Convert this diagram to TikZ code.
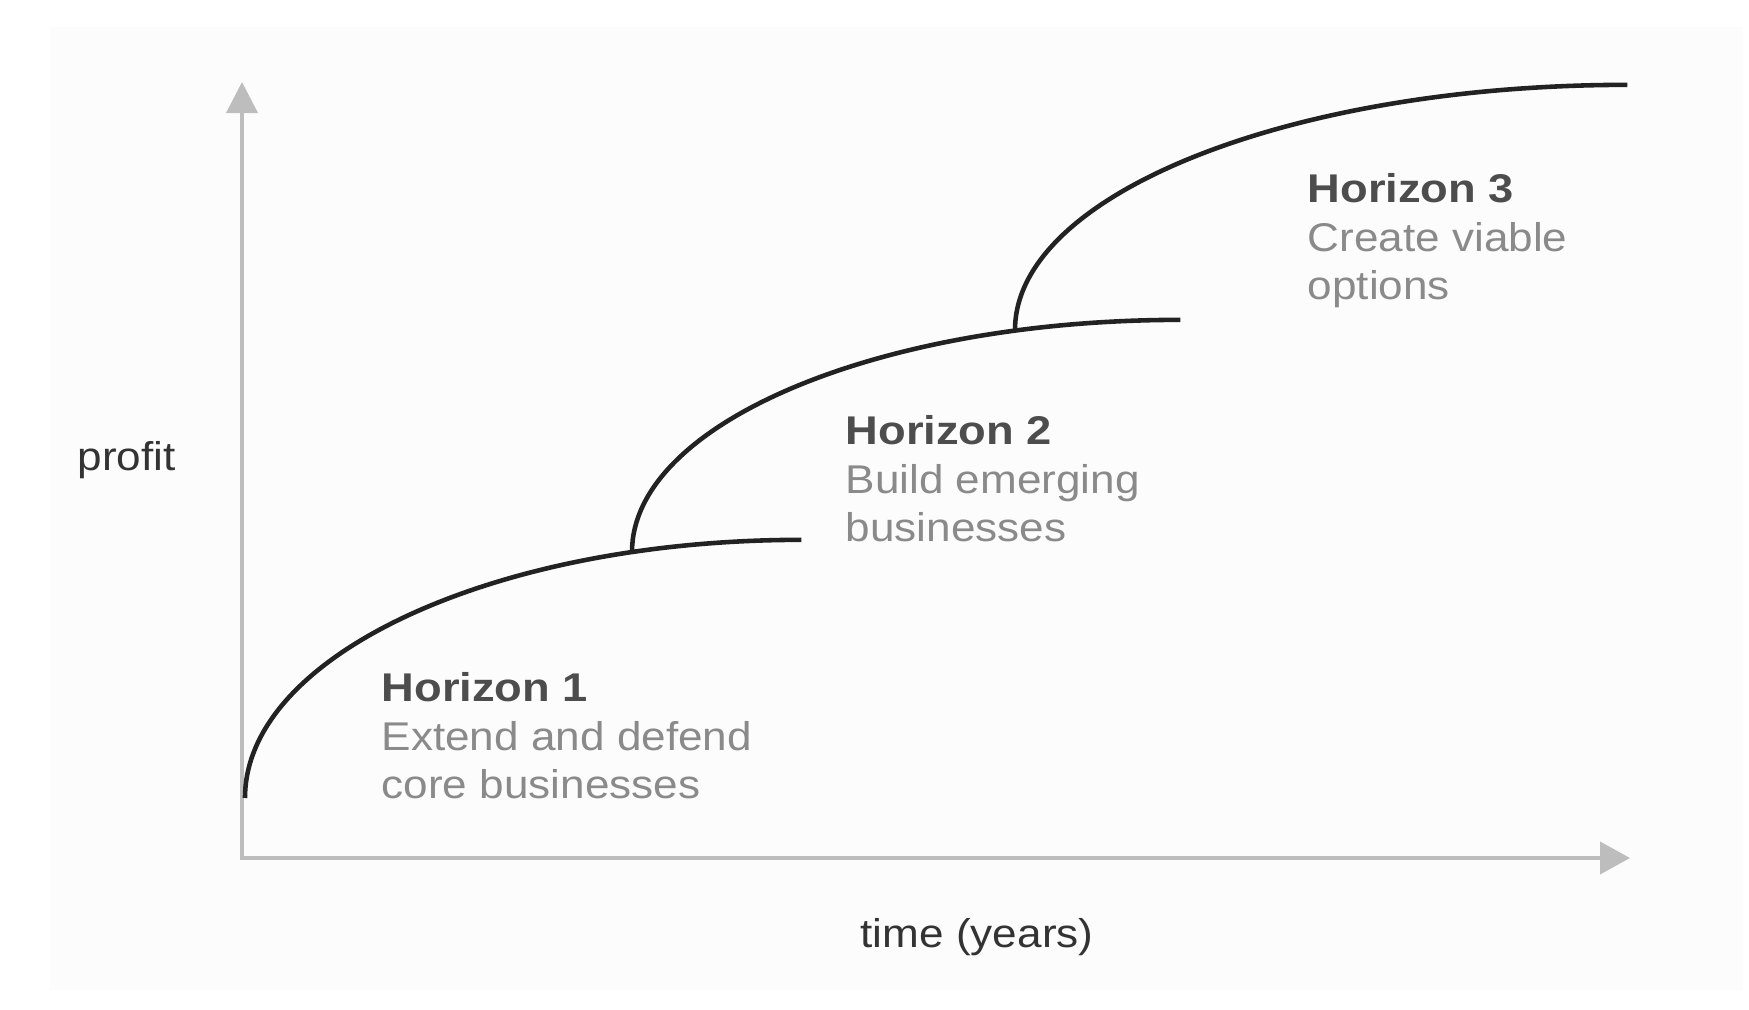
\documentclass[tikz,border=0pt]{standalone}
\usepackage{fontspec}
\setmainfont{Liberation Sans}[FakeStretch=1.1, BoldFeatures={FakeStretch=1.13}]
\usepackage{tikz}
\usetikzlibrary{arrows.meta, positioning, calc}

\definecolor{axisgray}{HTML}{BDBDBD}
\definecolor{headgray}{HTML}{4D4D4D}
\definecolor{descgray}{HTML}{8A8A8A}
\definecolor{labelgray}{HTML}{333333}
\definecolor{curveblack}{HTML}{222222}
\definecolor{panelwhite}{HTML}{FCFCFC}

\begin{document}
\begin{tikzpicture}[ x=0.01cm, y=-0.01cm, axis/.style={draw=axisgray,
      line width=1.1pt, {Triangle[length=0.31cm, width=0.31cm]}-{Triangle[length=0.3cm,
      width=0.32cm]}}, horizoncurve/.style={draw=curveblack, line
      width=1.3pt}, horizontext/.style={anchor=north west, inner sep=0pt,
      align=left, text=descgray, font=\fontsize{11.4pt}{13.8pt}\selectfont},
      axislabel/.style={anchor=base west, inner sep=0pt, text=labelgray,
      font=\fontsize{11.4pt}{13.8pt}\selectfont} ]

    \useasboundingbox (0,0) rectangle (1749,1010);
    \fill[panelwhite] (50,27) rectangle (1743,990);

    % Axes
    \coordinate (origin) at (242,858); \coordinate (ytip) at (242,82);
    \coordinate (xtip) at (1630,858);
    \draw[axis] (ytip) -- (origin) -- (xtip);

    % Horizon curves
    \coordinate (h1start) at (245,798); \coordinate (h2start) at (632,552);
    \coordinate (h3start) at (1015,330);
    \draw[horizoncurve] (h1start) arc[start angle=180, end angle=90, x
    radius=5.56cm, y radius=2.58cm];
    \draw[horizoncurve] (h2start) arc[start angle=180, end angle=90, x
    radius=5.48cm, y radius=2.32cm];
    \draw[horizoncurve] (h3start) arc[start angle=180, end angle=90, x
    radius=6.12cm, y radius=2.45cm];

    % Horizon labels
    \node[horizontext] (horizon1) at (381,672) {\textcolor{headgray}{\bfseries
    Horizon 1}\\Extend and defend\\core businesses};
    \node[horizontext] (horizon2) at (845,415) {\textcolor{headgray}{\bfseries
    Horizon 2}\\Build emerging\\businesses};
    \node[horizontext] (horizon3) at (1307,173) {\textcolor{headgray}{\bfseries
    Horizon 3}\\Create viable\\options};

    % Axis labels
    \node[axislabel] (profit) at (77,471) {profit};
    \node[axislabel] (time) at (860,947) {time (years)};

\end{tikzpicture}
\end{document}
